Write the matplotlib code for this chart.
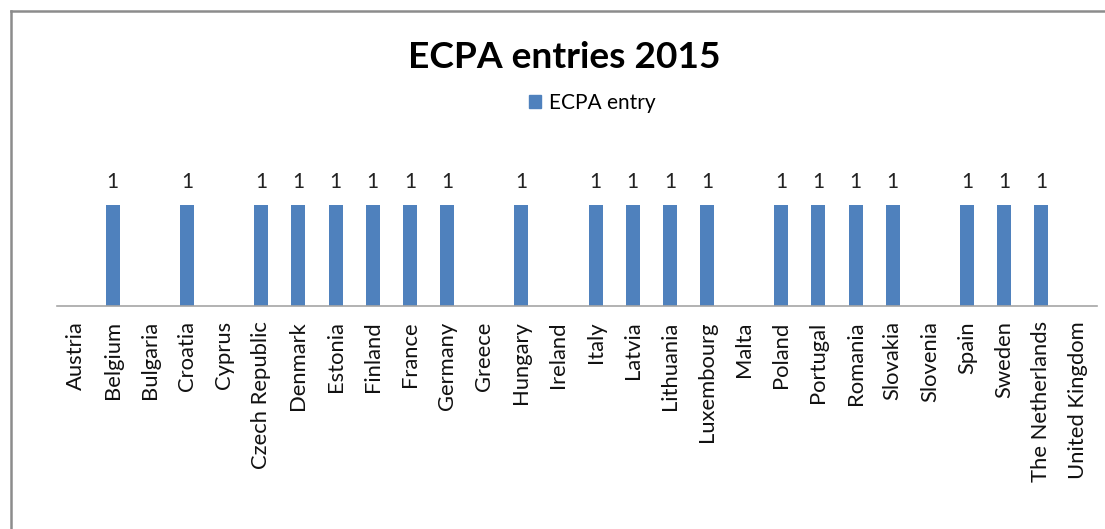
import matplotlib
matplotlib.use("Agg")
import matplotlib.pyplot as plt
from matplotlib.lines import Line2D
from matplotlib.patches import Patch

countries = [
    "Austria", "Belgium", "Bulgaria", "Croatia", "Cyprus", "Czech Republic",
    "Denmark", "Estonia", "Finland", "France", "Germany", "Greece", "Hungary",
    "Ireland", "Italy", "Latvia", "Lithuania", "Luxembourg", "Malta", "Poland",
    "Portugal", "Romania", "Slovakia", "Slovenia", "Spain", "Sweden",
    "The Netherlands", "United Kingdom",
]
ecpa_entry = [0, 1, 0, 1, 0, 1, 1, 1, 1, 1, 1, 0, 1, 0, 1, 1, 1, 1, 0, 1,
              1, 1, 1, 0, 1, 1, 1, 0]

BLUE = "#4F81BD"
plt.rcParams["font.family"] = ["Lato", "DejaVu Sans"]

W, H = 1105, 529
fig = plt.figure(figsize=(W / 100, H / 100), dpi=100)

# axes placed in pixel terms of the reference
x0, x1 = 57, 1097
y_axis, y_top = 306, 185
ax = fig.add_axes([x0 / W, (H - y_axis) / H, (x1 - x0) / W, (y_axis - y_top) / H])

xs = range(len(countries))
ax.bar(xs, ecpa_entry, width=0.38, color=BLUE, zorder=2)
for x, v in zip(xs, ecpa_entry):
    if v:
        ax.text(x, v + 0.13, str(v), ha="center", va="bottom", fontsize=15,
                color="#222222")

ax.set_xlim(-0.5, len(countries) - 0.5)
ax.set_ylim(0, 1.2)
ax.set_yticks([])
ax.set_xticks(list(xs))
ax.set_xticklabels(countries, rotation=90, fontsize=15.8, color="#111111",
                   va="top", ha="center")
ax.tick_params(axis="x", length=0, pad=11)
for s in ("top", "right", "left"):
    ax.spines[s].set_visible(False)
ax.spines["bottom"].set_color("#A6A6A6")
ax.spines["bottom"].set_linewidth(1.2)

fig.text(564 / W, 1 - 57 / H, "ECPA entries 2015", ha="center", va="center",
         fontsize=26.7, fontweight="bold", color="#000000")

fig.legend(handles=[Patch(color=BLUE, label="ECPA entry")],
           loc="center", bbox_to_anchor=(592 / W, 1 - 103 / H), frameon=False,
           fontsize=15, handlelength=0.6, handleheight=0.6, handletextpad=0.35)

# partial outer frame (left and top edges)
fig.add_artist(Line2D([11 / W, 11 / W], [0, 1 - 11 / H], color="#8C8C8C", lw=1.8,
                      transform=fig.transFigure))
fig.add_artist(Line2D([11 / W, 1], [1 - 11 / H, 1 - 11 / H], color="#8C8C8C", lw=1.8,
                      transform=fig.transFigure))

fig.savefig("out.png", dpi=100, facecolor="white")
